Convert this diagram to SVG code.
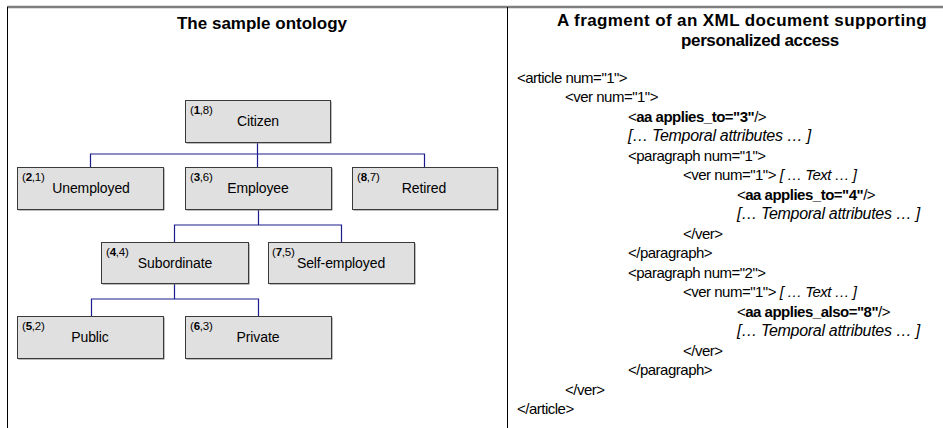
<svg xmlns="http://www.w3.org/2000/svg" width="943" height="428" viewBox="0 0 943 428">
<style>
text{font-family:"Liberation Sans",Arial,sans-serif;fill:#000}
.title{font-size:17px;font-weight:bold;text-anchor:middle}
.box{fill:#e0e0e0;stroke:#3a3a3a;stroke-width:1}
.shadow{fill:#7a7a7a}
.num{font-size:11.5px;letter-spacing:-0.2px}
.name{font-size:14px;text-anchor:middle;letter-spacing:-0.1px}
.xml{font-size:15px;letter-spacing:-0.5px}
.it{font-style:italic}
.tmp{font-size:16px;letter-spacing:-0.3px}
.b{font-weight:bold}
.conn{fill:none;stroke:#1c1c8c;stroke-width:1.2}
</style>
<g id="frame">
<line x1="7" y1="7" x2="943" y2="7" stroke="#7f7f7f" stroke-width="2.5"/>
<line x1="7.5" y1="7" x2="7.5" y2="428" stroke="#000" stroke-width="1"/>
<line x1="507.5" y1="7" x2="507.5" y2="428" stroke="#000" stroke-width="1"/>
</g>
<text class="title" x="262" y="29">The sample ontology</text>
<text class="title" x="742" y="26" style="font-size:17px;letter-spacing:0.4px">A fragment of an XML document supporting</text>
<text class="title" x="760" y="46" style="font-size:17px;letter-spacing:-0.4px">personalized access</text>
<g id="connectors">
<path class="conn" d="M257.5 142V154M90.5 167V154H424.5V167M257.5 154V167"/>
<path class="conn" d="M258.5 209V225M174.5 242V225H341.5V242"/>
<path class="conn" d="M174.5 283V299M91.5 316V299H258.5V316"/>
</g>
<g id="citizen">
<rect class="shadow" x="186.5" y="101.5" width="145" height="42"/>
<rect class="box" x="185.5" y="100.5" width="145" height="42"/>
<text class="num" x="190" y="114">(<tspan class="b">1</tspan>,8)</text>
<text class="name" x="258" y="126">Citizen</text>
</g>
<g id="unemployed">
<rect class="shadow" x="18.5" y="168.5" width="146" height="42"/>
<rect class="box" x="17.5" y="167.5" width="146" height="42"/>
<text class="num" x="22" y="181">(<tspan class="b">2</tspan>,1)</text>
<text class="name" x="91" y="193">Unemployed</text>
</g>
<g id="employee">
<rect class="shadow" x="186.5" y="168.5" width="146" height="42"/>
<rect class="box" x="185.5" y="167.5" width="146" height="42"/>
<text class="num" x="190" y="181">(<tspan class="b">3</tspan>,6)</text>
<text class="name" x="258" y="193">Employee</text>
</g>
<g id="retired">
<rect class="shadow" x="353.5" y="168.5" width="145" height="42"/>
<rect class="box" x="352.5" y="167.5" width="145" height="42"/>
<text class="num" x="357" y="181">(<tspan class="b">8</tspan>,7)</text>
<text class="name" x="424" y="193">Retired</text>
</g>
<g id="subordinate">
<rect class="shadow" x="102.5" y="243.5" width="147" height="41"/>
<rect class="box" x="101.5" y="242.5" width="147" height="41"/>
<text class="num" x="106" y="256">(<tspan class="b">4</tspan>,4)</text>
<text class="name" x="175" y="268">Subordinate</text>
</g>
<g id="selfemployed">
<rect class="shadow" x="269.5" y="243.5" width="146" height="41"/>
<rect class="box" x="268.5" y="242.5" width="146" height="41"/>
<text class="num" x="272" y="256">(<tspan class="b">7</tspan>,5)</text>
<text class="name" x="341" y="268">Self-employed</text>
</g>
<g id="public">
<rect class="shadow" x="18.5" y="317.5" width="146" height="42"/>
<rect class="box" x="17.5" y="316.5" width="146" height="42"/>
<text class="num" x="22" y="330">(<tspan class="b">5</tspan>,2)</text>
<text class="name" x="90" y="342">Public</text>
</g>
<g id="private">
<rect class="shadow" x="186.5" y="317.5" width="146" height="42"/>
<rect class="box" x="185.5" y="316.5" width="146" height="42"/>
<text class="num" x="190" y="330">(<tspan class="b">6</tspan>,3)</text>
<text class="name" x="258" y="342">Private</text>
</g>
<g id="xml">
<text class="xml" x="517" y="83">&lt;article num="1"&gt;</text>
<text class="xml" x="565" y="102">&lt;ver num="1"&gt;</text>
<text class="xml" x="628" y="122">&lt;<tspan class="b">aa applies_to="3"</tspan>/&gt;</text>
<text class="xml it tmp" x="628" y="141">[… Temporal attributes … ]</text>
<text class="xml" x="628" y="161">&lt;paragraph num="1"&gt;</text>
<text class="xml" x="683" y="180">&lt;ver num="1"&gt; <tspan class="it">[ … Text … ]</tspan></text>
<text class="xml" x="737" y="200">&lt;<tspan class="b">aa applies_to="4"</tspan>/&gt;</text>
<text class="xml it tmp" x="737" y="219">[… Temporal attributes … ]</text>
<text class="xml" x="683" y="239">&lt;/ver&gt;</text>
<text class="xml" x="628" y="258">&lt;/paragraph&gt;</text>
<text class="xml" x="628" y="278">&lt;paragraph num="2"&gt;</text>
<text class="xml" x="683" y="297">&lt;ver num="1"&gt; <tspan class="it">[ … Text … ]</tspan></text>
<text class="xml" x="737" y="317">&lt;<tspan class="b">aa applies_also="8"</tspan>/&gt;</text>
<text class="xml it tmp" x="737" y="336">[… Temporal attributes … ]</text>
<text class="xml" x="683" y="356">&lt;/ver&gt;</text>
<text class="xml" x="628" y="375">&lt;/paragraph&gt;</text>
<text class="xml" x="565" y="395">&lt;/ver&gt;</text>
<text class="xml" x="517" y="414">&lt;/article&gt;</text>
</g>
</svg>
